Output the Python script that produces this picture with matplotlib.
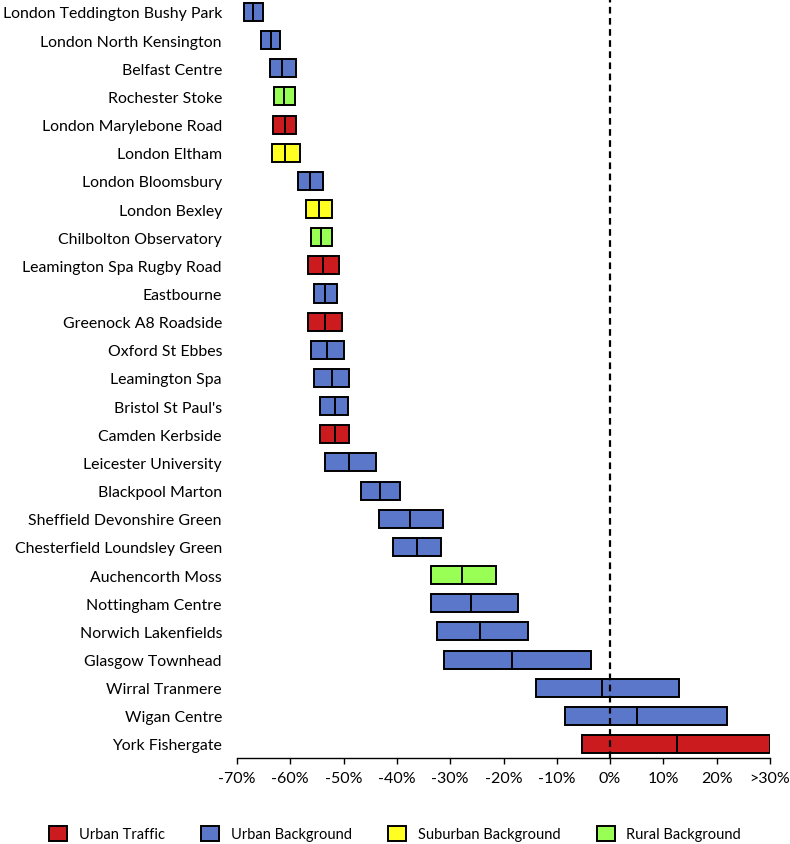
import matplotlib
matplotlib.use("Agg")
import matplotlib.pyplot as plt
from matplotlib.patches import Patch

plt.rcParams["font.family"] = ["Lato", "DejaVu Sans"]

sites = [
    "London Teddington Bushy Park", "London North Kensington", "Belfast Centre",
    "Rochester Stoke", "London Marylebone Road", "London Eltham",
    "London Bloomsbury", "London Bexley", "Chilbolton Observatory",
    "Leamington Spa Rugby Road", "Eastbourne", "Greenock A8 Roadside",
    "Oxford St Ebbes", "Leamington Spa", "Bristol St Paul's", "Camden Kerbside",
    "Leicester University", "Blackpool Marton", "Sheffield Devonshire Green",
    "Chesterfield Loundsley Green", "Auchencorth Moss", "Nottingham Centre",
    "Norwich Lakenfields", "Glasgow Townhead", "Wirral Tranmere",
    "Wigan Centre", "York Fishergate",
]
site_types = [
    "UB", "UB", "UB", "RB", "UT", "SB", "UB", "SB", "RB", "UT", "UB", "UT",
    "UB", "UB", "UB", "UT", "UB", "UB", "UB", "UB", "RB", "UB", "UB", "UB",
    "UB", "UB", "UT",
]
low = [
    -68.7, -65.5, -63.9, -63.0, -63.2, -63.5, -58.6, -57.1, -56.2, -56.6,
    -55.5, -56.6, -56.2, -55.6, -54.4, -54.5, -53.4, -46.8, -43.4, -40.8,
    -33.6, -33.6, -32.5, -31.1, -13.9, -8.5, -5.2,
]
median = [
    -67.0, -63.7, -61.5, -61.1, -61.0, -61.0, -56.3, -54.7, -54.2, -53.8,
    -53.4, -53.4, -53.1, -52.2, -51.7, -51.7, -48.9, -43.1, -37.6, -36.3,
    -27.8, -26.1, -24.5, -18.5, -1.5, 5.1, 12.6,
]
high = [
    -65.2, -62.0, -58.9, -59.2, -58.9, -58.2, -53.9, -52.2, -52.2, -50.9,
    -51.3, -50.3, -49.9, -48.9, -49.2, -49.0, -43.9, -39.4, -31.4, -31.7,
    -21.4, -17.3, -15.4, -3.6, 13.0, 22.0, 30.0,
]

type_names = {
    "UT": "Urban Traffic",
    "UB": "Urban Background",
    "SB": "Suburban Background",
    "RB": "Rural Background",
}
type_colors = {
    "UT": "#CC1B1E",
    "UB": "#5B77C9",
    "SB": "#FFFF22",
    "RB": "#99FF55",
}

tick_vals = [-70, -60, -50, -40, -30, -20, -10, 0, 10, 20, 30]
tick_labels = ["-70%", "-60%", "-50%", "-40%", "-30%", "-20%", "-10%",
               "0%", "10%", "20%", ">30%"]

fig = plt.figure(figsize=(7.9, 8.45), dpi=100)
ax = fig.add_axes([0.3, 0.1017, 0.6747, 0.8983])

bar_h = 0.64
ypos = list(range(len(sites)))
for i, y in enumerate(ypos):
    c = type_colors[site_types[i]]
    ax.barh(y, high[i] - low[i], left=low[i], height=bar_h, color=c,
            edgecolor="black", linewidth=1.4, zorder=3)
    ax.plot([median[i], median[i]], [y - bar_h / 2, y + bar_h / 2],
            color="black", linewidth=1.4, zorder=4)

ax.axvline(0, color="black", linestyle=(0, (3, 2)), linewidth=1.6, zorder=5)

ax.set_xlim(-70, 30)
ax.set_ylim(len(sites) - 0.5, -0.46)
ax.set_yticks(ypos)
ax.set_yticklabels(sites, fontsize=11.4)
ax.tick_params(axis="y", length=0, pad=10.8)
ax.set_xticks(tick_vals)
ax.set_xticklabels(tick_labels, fontsize=11.5)
ax.tick_params(axis="x", direction="out", length=4, width=1, pad=5)

for s in ["left", "right", "top"]:
    ax.spines[s].set_visible(False)
ax.spines["bottom"].set_linewidth(1)

handles = [Patch(facecolor=type_colors[k], edgecolor="black", linewidth=1.4,
                 label=type_names[k]) for k in ["UT", "UB", "SB", "RB"]]
fig.legend(handles=handles, loc="center", bbox_to_anchor=(0.5, 0.0124),
           ncol=4, frameon=False, fontsize=10.5, handlelength=1.23,
           handleheight=1.23, columnspacing=2.5, handletextpad=0.8,
           borderpad=0)

fig.savefig("out.png", dpi=100)
